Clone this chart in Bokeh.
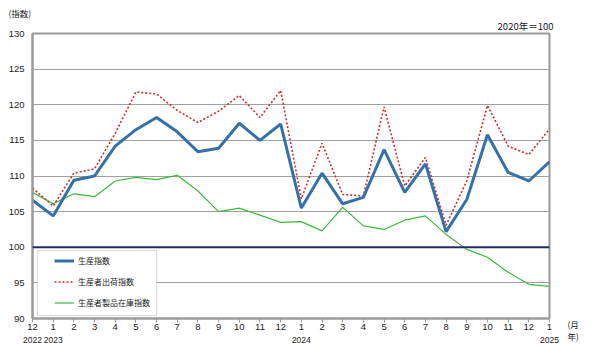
from bokeh.plotting import figure
from bokeh.models import (Range1d, FixedTicker, Legend, LegendItem, BoxAnnotation,
                          Span, LinearAxis, Title)
from bokeh.embed import file_html
from bokeh.resources import INLINE

months = ["12", "1", "2", "3", "4", "5", "6", "7", "8", "9", "10", "11",
          "12", "1", "2", "3", "4", "5", "6", "7", "8", "9", "10", "11", "12", "1"]
years = {0: "2022", 1: "2023", 13: "2024", 25: "2025"}

production = [106.6, 104.4, 109.4, 110.0, 114.2, 116.5, 118.2, 116.2, 113.4, 113.9, 117.4, 115.0,
              117.3, 105.5, 110.4, 106.1, 107.0, 113.7, 107.7, 111.7, 102.2, 106.7, 115.8, 110.5,
              109.3, 112.0]
shipments = [108.3, 105.8, 110.4, 111.0, 116.0, 121.8, 121.5, 119.2, 117.5, 119.1, 121.3, 118.2,
             122.0, 106.8, 114.6, 107.4, 107.2, 119.7, 108.6, 112.6, 103.1, 109.3, 119.9, 114.2,
             113.0, 116.6]
inventory = [107.7, 106.1, 107.5, 107.1, 109.3, 109.8, 109.5, 110.1, 107.9, 105.0, 105.5, 104.5,
             103.5, 103.6, 102.3, 105.6, 103.0, 102.5, 103.8, 104.4, 101.8, 99.7, 98.6, 96.5,
             94.8, 94.5]
series_names = ["生産指数", "生産者出荷指数", "生産者製品在庫指数"]
y_ticks = [90, 95, 100, 105, 110, 115, 120, 125, 130]

x = list(range(len(months)))

JP = "Noto Sans CJK JP"
NUM = "Liberation Sans"
TXT = "#222222"
GRAY = "#9a9a9a"

p = figure(width=600, height=358, output_backend="svg", toolbar_location=None,
           x_range=Range1d(0, len(months) - 1), y_range=Range1d(90, 130), title=None)
p.min_border_left = 32
p.min_border_right = 51
p.min_border_top = 33
p.min_border_bottom = 40
p.background_fill_color = "white"
p.border_fill_color = "white"
p.outline_line_color = GRAY
p.outline_line_width = 2

# grid
p.xgrid.visible = False
p.ygrid.ticker = FixedTicker(ticks=y_ticks)
p.ygrid.grid_line_color = "#a0a0a0"
p.ygrid.grid_line_width = 1.2

# y axis
p.yaxis.ticker = FixedTicker(ticks=y_ticks)
p.yaxis.major_tick_out = 0
p.yaxis.major_tick_in = 0
p.yaxis.minor_tick_out = 0
p.yaxis.minor_tick_in = 0
p.yaxis.axis_line_color = GRAY
p.yaxis.axis_line_width = 2
p.yaxis.major_label_standoff = 8
p.yaxis.major_label_text_font = NUM
p.yaxis.major_label_text_font_size = "9.5px"
p.yaxis.major_label_text_color = TXT

# x axis (months)
p.xaxis.ticker = FixedTicker(ticks=x)
p.xaxis.major_label_overrides = {i: m for i, m in enumerate(months)}
p.xaxis.major_tick_out = 4
p.xaxis.major_tick_in = 0
p.xaxis.minor_tick_out = 0
p.xaxis.minor_tick_in = 0
p.xaxis.major_tick_line_color = GRAY
p.xaxis.axis_line_color = GRAY
p.xaxis.axis_line_width = 2
p.xaxis.major_label_standoff = 1
p.xaxis.major_label_text_font = NUM
p.xaxis.major_label_text_font_size = "9.5px"
p.xaxis.major_label_text_color = TXT

# second row of x labels (years)
year_axis = LinearAxis(ticker=FixedTicker(ticks=list(years.keys())),
                       major_label_overrides=years,
                       axis_line_alpha=0, major_tick_line_alpha=0, minor_tick_line_alpha=0,
                       major_tick_out=0, major_tick_in=0, minor_tick_out=0, minor_tick_in=0,
                       major_label_standoff=4,
                       major_label_text_font=NUM, major_label_text_font_size="8.5px",
                       major_label_text_color=TXT)
p.add_layout(year_axis, "below")

# unit note (月/年) at the right end of the x axis, via a label-only right axis
unit_axis = LinearAxis(ticker=FixedTicker(ticks=[y_ticks[0]]),
                       major_label_overrides={y_ticks[0]: "\n\n(月\n 年)"},
                       axis_line_alpha=0, major_tick_line_alpha=0, minor_tick_line_alpha=0,
                       major_tick_out=0, major_tick_in=0, minor_tick_out=0, minor_tick_in=0,
                       major_label_standoff=18,
                       major_label_text_font=JP, major_label_text_font_size="8.5px",
                       major_label_text_line_height=0.95,
                       major_label_text_color=TXT)
p.add_layout(unit_axis, "right")

# 100 base line
p.add_layout(Span(location=100, dimension="width", line_color="#1f2f66", line_width=2.2))

r_inv = p.line(x, inventory, line_color="#3cb83c", line_width=1.2)
r_ship = p.line(x, shipments, line_color="#d42a2a", line_width=1.6, line_dash="2 2")
r_prod = p.line(x, production, line_color="#3470aa", line_width=3)

# legend box
p.add_layout(BoxAnnotation(left=0.24, right=6.0, bottom=90.42, top=99.54,
                           fill_color="white", fill_alpha=1,
                           line_color="#8a8a8a", line_width=1.2, level="annotation"))

legend = Legend(items=[LegendItem(label=series_names[0], renderers=[r_prod]),
                       LegendItem(label=series_names[1], renderers=[r_ship]),
                       LegendItem(label=series_names[2], renderers=[r_inv])],
                location=(22, 5), orientation="vertical",
                border_line_alpha=0, background_fill_alpha=0,
                padding=0, spacing=0, margin=0,
                glyph_width=20, glyph_height=21, label_height=21, label_standoff=4,
                label_text_font=JP, label_text_font_size="8px", label_text_color=TXT)
p.add_layout(legend, "center")

# texts above the frame
p.add_layout(Title(text="2020年＝100", align="right", text_font=JP, text_font_size="9.5px",
                   text_font_style="normal", text_color=TXT, standoff=1, offset=-4), "above")
p.add_layout(Title(text="(指数)", align="left", text_font=JP, text_font_size="8.5px",
                   text_font_style="normal", text_color=TXT, standoff=-4, offset=-24), "above")

open("out.html", "w").write(file_html(p, INLINE))
